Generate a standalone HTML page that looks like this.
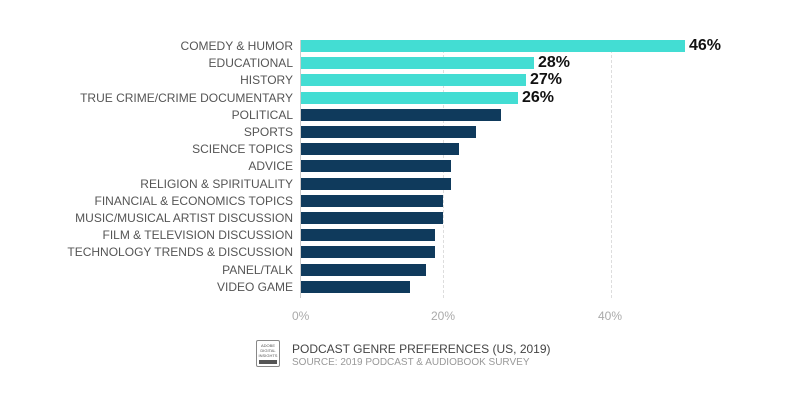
<!DOCTYPE html>
<html><head><style>
body{margin:0;background:#fff;font-family:"Liberation Sans",sans-serif;}
.c{position:relative;width:800px;height:400px;overflow:hidden;}
.l{position:absolute;right:507px;font-size:12px;color:#555;white-space:nowrap;line-height:14px;}
.b{position:absolute;left:301px;height:12px;}
.v{position:absolute;font-size:16px;font-weight:bold;color:#111;line-height:16px;}
.g{position:absolute;top:40px;height:258px;border-left:1px dashed #ddd;}
.t{position:absolute;top:309px;font-size:12px;color:#aaa;}
</style></head><body><div class="c">
<div class="g" style="left:443px"></div>
<div class="g" style="left:611px"></div>
<div style="position:absolute;left:300px;top:40px;height:258px;border-left:1px solid #ccc"></div>
<div id="rows"></div>
<script>
var d=[["COMEDY & HUMOR",685,1,"46%"],["EDUCATIONAL",534,1,"28%"],["HISTORY",526,1,"27%"],["TRUE CRIME/CRIME DOCUMENTARY",518,1,"26%"],["POLITICAL",501],["SPORTS",476],["SCIENCE TOPICS",459],["ADVICE",451],["RELIGION & SPIRITUALITY",451],["FINANCIAL & ECONOMICS TOPICS",443],["MUSIC/MUSICAL ARTIST DISCUSSION",443],["FILM & TELEVISION DISCUSSION",435],["TECHNOLOGY TRENDS & DISCUSSION",435],["PANEL/TALK",426],["VIDEO GAME",410]];
var h="";d.forEach(function(r,i){var y=40+i*17.2;
h+='<div class="l" style="top:'+(y-1)+'px">'+r[0].replace(/&/g,"&amp;")+'</div>';
h+='<div class="b" style="top:'+y+'px;width:'+(r[1]-301)+'px;background:'+(r[2]?'#43ddd3':'#0f3a5c')+'"></div>';
if(r[3])h+='<div class="v" style="left:'+(r[1]+4)+'px;top:'+(y-2)+'px">'+r[3]+'</div>';});
document.getElementById("rows").innerHTML=h;
</script>
<div class="t" style="left:292px">0%</div>
<div class="t" style="left:431px">20%</div>
<div class="t" style="left:598px">40%</div>
<div style="position:absolute;left:256px;top:340px;width:24px;height:27px;border:1px solid #888;border-radius:2px;font-size:4px;line-height:5px;color:#555;text-align:center;padding-top:2px;box-sizing:border-box">ADOBE<br>DIGITAL<br>INSIGHTS<div style="background:#555;height:4px;margin:2px 2px 0"></div></div>
<div style="position:absolute;left:292px;top:342px;font-size:12px;color:#444">PODCAST GENRE PREFERENCES (US, 2019)</div>
<div style="position:absolute;left:292px;top:357px;font-size:10px;color:#999">SOURCE: 2019 PODCAST &amp; AUDIOBOOK SURVEY</div>
</div></body></html>
